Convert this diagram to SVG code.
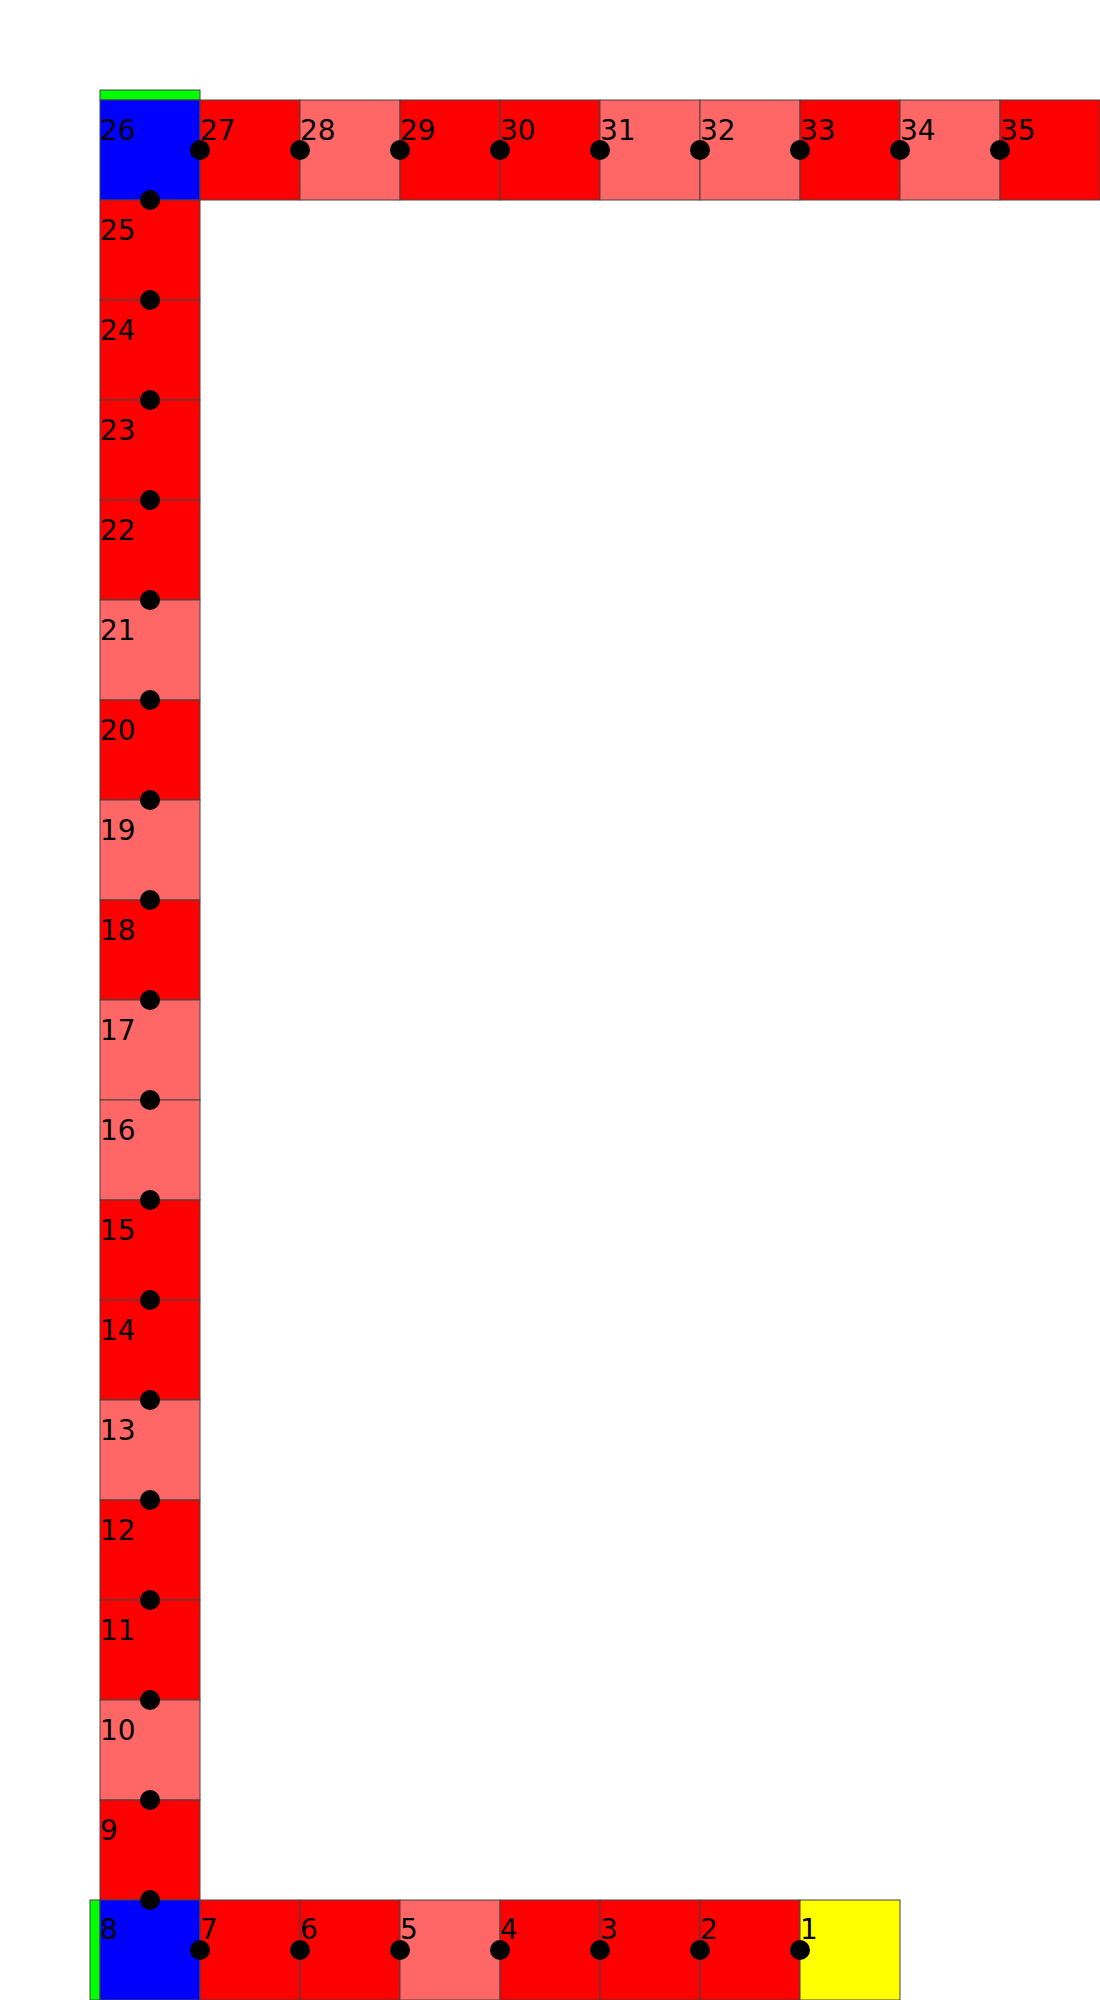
<svg xmlns="http://www.w3.org/2000/svg" width="1100" height="2000" viewBox="0 0 1100 2000">
<style>
.c{stroke:#444;stroke-width:1}
.r{fill:#ff0000}
.l{fill:#ff6666}
.b{fill:#0000ff}
.y{fill:#ffff00}
.g{fill:#00ff00;stroke:#444;stroke-width:1}
text{font-family:"DejaVu Sans",sans-serif;font-size:28px;fill:#000}
.d{fill:#000}
</style>
<rect width="1100" height="2000" fill="#fff"/>
<rect class="g" x="100" y="90" width="100" height="10"/>
<rect class="g" x="90" y="1900" width="10" height="100"/>
<g id="n26"><rect class="c b" x="100" y="100" width="100" height="100"/><text x="100" y="140">26</text></g>
<g id="n27"><rect class="c r" x="200" y="100" width="100" height="100"/><text x="200" y="140">27</text></g>
<g id="n28"><rect class="c l" x="300" y="100" width="100" height="100"/><text x="300" y="140">28</text></g>
<g id="n29"><rect class="c r" x="400" y="100" width="100" height="100"/><text x="400" y="140">29</text></g>
<g id="n30"><rect class="c r" x="500" y="100" width="100" height="100"/><text x="500" y="140">30</text></g>
<g id="n31"><rect class="c l" x="600" y="100" width="100" height="100"/><text x="600" y="140">31</text></g>
<g id="n32"><rect class="c l" x="700" y="100" width="100" height="100"/><text x="700" y="140">32</text></g>
<g id="n33"><rect class="c r" x="800" y="100" width="100" height="100"/><text x="800" y="140">33</text></g>
<g id="n34"><rect class="c l" x="900" y="100" width="100" height="100"/><text x="900" y="140">34</text></g>
<g id="n35"><rect class="c r" x="1000" y="100" width="100" height="100"/><text x="1000" y="140">35</text></g>
<g id="n25"><rect class="c r" x="100" y="200" width="100" height="100"/><text x="100" y="240">25</text></g>
<g id="n24"><rect class="c r" x="100" y="300" width="100" height="100"/><text x="100" y="340">24</text></g>
<g id="n23"><rect class="c r" x="100" y="400" width="100" height="100"/><text x="100" y="440">23</text></g>
<g id="n22"><rect class="c r" x="100" y="500" width="100" height="100"/><text x="100" y="540">22</text></g>
<g id="n21"><rect class="c l" x="100" y="600" width="100" height="100"/><text x="100" y="640">21</text></g>
<g id="n20"><rect class="c r" x="100" y="700" width="100" height="100"/><text x="100" y="740">20</text></g>
<g id="n19"><rect class="c l" x="100" y="800" width="100" height="100"/><text x="100" y="840">19</text></g>
<g id="n18"><rect class="c r" x="100" y="900" width="100" height="100"/><text x="100" y="940">18</text></g>
<g id="n17"><rect class="c l" x="100" y="1000" width="100" height="100"/><text x="100" y="1040">17</text></g>
<g id="n16"><rect class="c l" x="100" y="1100" width="100" height="100"/><text x="100" y="1140">16</text></g>
<g id="n15"><rect class="c r" x="100" y="1200" width="100" height="100"/><text x="100" y="1240">15</text></g>
<g id="n14"><rect class="c r" x="100" y="1300" width="100" height="100"/><text x="100" y="1340">14</text></g>
<g id="n13"><rect class="c l" x="100" y="1400" width="100" height="100"/><text x="100" y="1440">13</text></g>
<g id="n12"><rect class="c r" x="100" y="1500" width="100" height="100"/><text x="100" y="1540">12</text></g>
<g id="n11"><rect class="c r" x="100" y="1600" width="100" height="100"/><text x="100" y="1640">11</text></g>
<g id="n10"><rect class="c l" x="100" y="1700" width="100" height="100"/><text x="100" y="1740">10</text></g>
<g id="n9"><rect class="c r" x="100" y="1800" width="100" height="100"/><text x="100" y="1840">9</text></g>
<g id="n8"><rect class="c b" x="100" y="1900" width="100" height="100"/><text x="100" y="1939">8</text></g>
<g id="n7"><rect class="c r" x="200" y="1900" width="100" height="100"/><text x="200" y="1939">7</text></g>
<g id="n6"><rect class="c r" x="300" y="1900" width="100" height="100"/><text x="300" y="1939">6</text></g>
<g id="n5"><rect class="c l" x="400" y="1900" width="100" height="100"/><text x="400" y="1939">5</text></g>
<g id="n4"><rect class="c r" x="500" y="1900" width="100" height="100"/><text x="500" y="1939">4</text></g>
<g id="n3"><rect class="c r" x="600" y="1900" width="100" height="100"/><text x="600" y="1939">3</text></g>
<g id="n2"><rect class="c r" x="700" y="1900" width="100" height="100"/><text x="700" y="1939">2</text></g>
<g id="n1"><rect class="c y" x="800" y="1900" width="100" height="100"/><text x="800" y="1939">1</text></g>
<g id="connectors">
<circle class="d" cx="200" cy="150" r="10"/><circle class="d" cx="300" cy="150" r="10"/><circle class="d" cx="400" cy="150" r="10"/><circle class="d" cx="500" cy="150" r="10"/><circle class="d" cx="600" cy="150" r="10"/><circle class="d" cx="700" cy="150" r="10"/><circle class="d" cx="800" cy="150" r="10"/><circle class="d" cx="900" cy="150" r="10"/><circle class="d" cx="1000" cy="150" r="10"/>
<circle class="d" cx="150" cy="200" r="10"/><circle class="d" cx="150" cy="300" r="10"/><circle class="d" cx="150" cy="400" r="10"/><circle class="d" cx="150" cy="500" r="10"/><circle class="d" cx="150" cy="600" r="10"/><circle class="d" cx="150" cy="700" r="10"/><circle class="d" cx="150" cy="800" r="10"/><circle class="d" cx="150" cy="900" r="10"/><circle class="d" cx="150" cy="1000" r="10"/><circle class="d" cx="150" cy="1100" r="10"/><circle class="d" cx="150" cy="1200" r="10"/><circle class="d" cx="150" cy="1300" r="10"/><circle class="d" cx="150" cy="1400" r="10"/><circle class="d" cx="150" cy="1500" r="10"/><circle class="d" cx="150" cy="1600" r="10"/><circle class="d" cx="150" cy="1700" r="10"/><circle class="d" cx="150" cy="1800" r="10"/><circle class="d" cx="150" cy="1900" r="10"/>
<circle class="d" cx="200" cy="1950" r="10"/><circle class="d" cx="300" cy="1950" r="10"/><circle class="d" cx="400" cy="1950" r="10"/><circle class="d" cx="500" cy="1950" r="10"/><circle class="d" cx="600" cy="1950" r="10"/><circle class="d" cx="700" cy="1950" r="10"/><circle class="d" cx="800" cy="1950" r="10"/>
</g>
</svg>
